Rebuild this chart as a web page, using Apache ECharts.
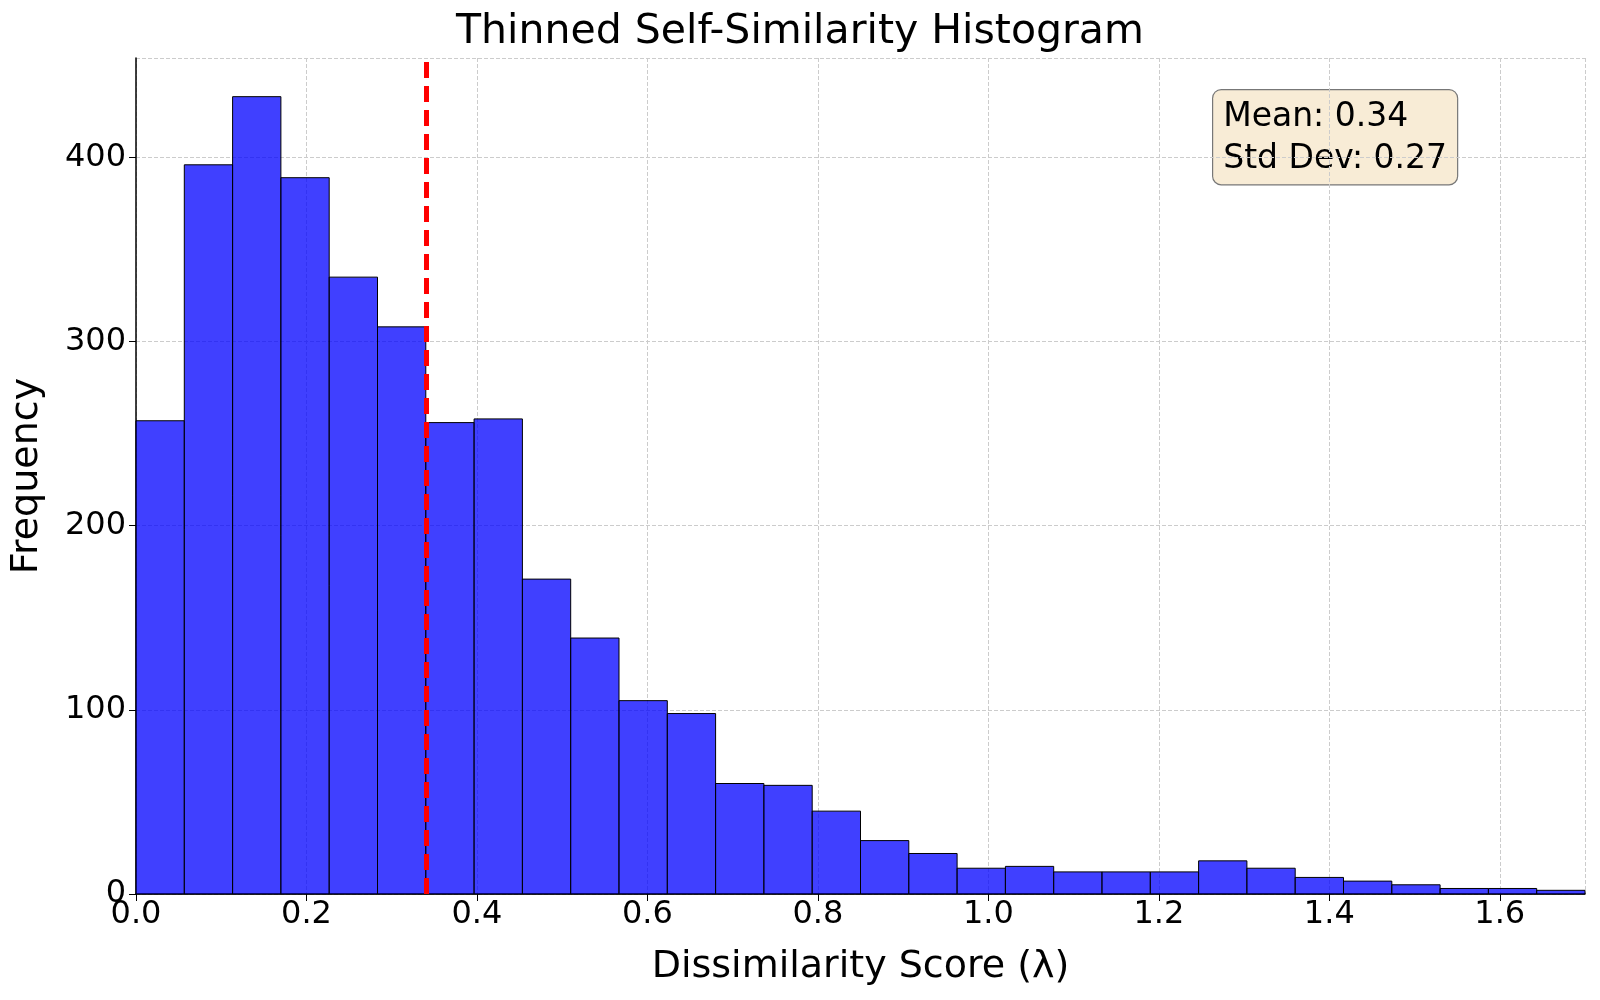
<!DOCTYPE html>
<html>
<head>
<meta charset="utf-8">
<script src="https://cdn.jsdelivr.net/npm/echarts@6/dist/echarts.min.js"></script>
<style>html,body{margin:0;padding:0;background:#fff}#main{width:1600px;height:1000px}</style>
</head>
<body>
<div id="main"></div>
<script>
// histogram bins (30 bins from 0 to xMax)
var xMax = 1.70;
var counts = [257, 396, 433, 389, 335, 308, 256, 258, 171, 139, 105, 98, 60, 59, 45,
              29, 22, 14, 15, 12, 12, 12, 18, 14, 9, 7, 5, 3, 3, 2];
var meanVal = 0.335;
var statText = 'Mean: 0.34\nStd Dev: 0.27';

var binW = xMax / counts.length;
var binData = counts.map(function (c, i) { return [i * binW, (i + 1) * binW, c]; });

var chart = echarts.init(document.getElementById('main'));
var font = 'DejaVu Sans';
chart.setOption({
    animation: false,
    title: {
        text: 'Thinned Self-Similarity Histogram', left: 'center', top: 7,
        textStyle: {fontFamily: font, fontSize: 41, fontWeight: 'normal', color: '#000'}
    },
    grid: {left: 136, right: 15, top: 58, bottom: 106},
    xAxis: {
        type: 'value', min: 0, max: xMax, interval: 0.2,
        name: 'Dissimilarity Score (λ)', nameLocation: 'middle', nameGap: 54,
        nameTextStyle: {fontFamily: font, fontSize: 38, color: '#000'},
        axisLine: {onZero: false, lineStyle: {color: '#000', width: 1.5}},
        axisTick: {show: true, length: 7, lineStyle: {color: '#000'}},
        axisLabel: {fontFamily: font, fontSize: 32, color: '#000', margin: 5,
            formatter: function (v) { return v.toFixed(1); }, showMaxLabel: false},
        splitLine: {show: true, lineStyle: {type: 'dashed', color: '#ccc'}}
    },
    yAxis: {
        type: 'value', min: 0, max: 454, interval: 100,
        name: 'Frequency', nameLocation: 'middle', nameGap: 90,
        nameTextStyle: {fontFamily: font, fontSize: 38, color: '#000'},
        axisLine: {show: true, lineStyle: {color: '#000', width: 1.5}},
        axisTick: {show: true, length: 7, lineStyle: {color: '#000'}},
        axisLabel: {fontFamily: font, fontSize: 32, color: '#000', margin: 10, showMaxLabel: false},
        splitLine: {show: true, lineStyle: {type: 'dashed', color: '#ccc'}}
    },
    series: [{
        type: 'custom',
        data: binData,
        encode: {x: [0, 1], y: 2},
        renderItem: function (params, api) {
            var p0 = api.coord([api.value(0), api.value(2)]);
            var p1 = api.coord([api.value(1), 0]);
            return {
                type: 'rect',
                shape: {x: p0[0], y: p0[1], width: p1[0] - p0[0], height: p1[1] - p0[1]},
                style: {fill: 'rgba(0,0,255,0.75)', stroke: '#000', lineWidth: 1}
            };
        },
        markLine: {
            silent: true, symbol: 'none', label: {show: false},
            lineStyle: {color: '#ff0000', type: [16, 8], width: 5},
            data: [{xAxis: meanVal}]
        }
    }],
    graphic: [{
        type: 'text', left: 1212, top: 89,
        style: {
            text: statText, fontFamily: font, fontSize: 33, lineHeight: 42, fill: '#000',
            backgroundColor: '#f8ecd6', borderColor: '#777', borderWidth: 1.2, borderRadius: 8,
            padding: [6, 10, 4, 10]
        }
    }]
});
</script>
</body>
</html>
